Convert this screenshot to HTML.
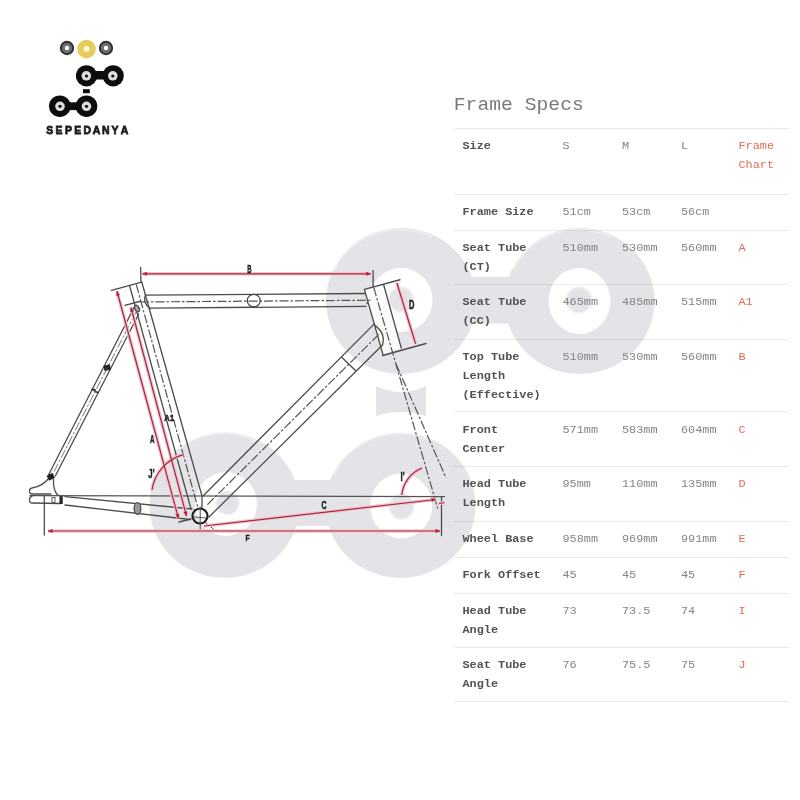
<!DOCTYPE html>
<html><head><meta charset="utf-8">
<style>
html,body{margin:0;padding:0;background:#fff;}
body{width:800px;height:800px;overflow:hidden;position:relative;font-family:"Liberation Mono",monospace;}
svg{position:absolute;left:0;top:0;}
.t{position:absolute;white-space:pre;font-size:11.85px;line-height:21.25px;transform:scaleY(0.88);transform-origin:0 0;color:#848484;}
.l{font-weight:bold;color:#525252;}
.r{color:#e36b55;}
.title{position:absolute;left:453.8px;top:95px;font-size:19.7px;line-height:20px;transform:scaleY(0.915);transform-origin:0 15px;color:#7a7a7a;white-space:pre;}
.hl{position:absolute;left:454px;width:335px;height:1px;background:#eaeaea;}
</style></head><body>
<!--HL-->
<div class="hl" style="top:128px"></div>
<div class="hl" style="top:194px"></div>
<div class="hl" style="top:230px"></div>
<div class="hl" style="top:284px"></div>
<div class="hl" style="top:339px"></div>
<div class="hl" style="top:411px"></div>
<div class="hl" style="top:466px"></div>
<div class="hl" style="top:521px"></div>
<div class="hl" style="top:557px"></div>
<div class="hl" style="top:593px"></div>
<div class="hl" style="top:647px"></div>
<div class="hl" style="top:701px"></div>
<!--/HL-->
<svg id="wm" width="800" height="800" viewBox="0 0 800 800" style="mix-blend-mode:multiply">
 <defs><filter id="bl" x="-5%" y="-5%" width="110%" height="110%"><feGaussianBlur stdDeviation="0.7"/></filter>
  <radialGradient id="dotg"><stop offset="0" stop-color="#e1e1e5"/><stop offset="0.78" stop-color="#e5e5e9"/><stop offset="1" stop-color="#fff"/></radialGradient></defs>
 <g filter="url(#bl)">
  <g fill="#e4e4e8">
    <ellipse cx="401" cy="301" rx="75" ry="73"/>
    <ellipse cx="579.5" cy="301" rx="75" ry="73"/>
    <rect x="401" y="277" width="178.5" height="46.5"/>
    <path d="M376,386 Q401,398 426,386 L426,416 Q401,408 376,416 Z"/>
    <ellipse cx="224.5" cy="505.2" rx="75" ry="72.6"/>
    <ellipse cx="400.5" cy="505.3" rx="75" ry="72.6"/>
    <rect x="224.5" y="480" width="176" height="46"/>
  </g>
  <g fill="#fff">
    <ellipse cx="401" cy="300" rx="31.5" ry="32"/>
    <ellipse cx="579.5" cy="301" rx="31" ry="33"/>
    <ellipse cx="226" cy="504" rx="31" ry="32"/>
    <ellipse cx="401.2" cy="506" rx="31" ry="32.5"/>
  </g>
  <g fill="url(#dotg)">
    <circle cx="401" cy="299.5" r="14"/>
    <circle cx="579" cy="300" r="14.5"/>
    <circle cx="227.5" cy="503" r="13"/>
    <circle cx="401.5" cy="506.5" r="14"/>
  </g>
  <g fill="none" stroke="#fff" stroke-opacity="0.35" stroke-width="2">
    <path d="M334,270 A73,71 0 0 1 432,237"/>
    <path d="M513,270 A73,71 0 0 1 611,237"/>
    <path d="M158,474 A73,71 0 0 1 256,441"/>
    <path d="M334,474 A73,71 0 0 1 432,441"/>
  </g>
 </g>
</svg>

<!--LOGO-->
<svg id="logo" width="800" height="800" viewBox="0 0 800 800">
 <defs>
  <radialGradient id="lg" cx="50%" cy="55%" r="55%">
   <stop offset="0.7" stop-color="#111"/><stop offset="1" stop-color="#444"/>
  </radialGradient>
 </defs>
 <!-- bearings -->
 <circle cx="67" cy="48" r="6.2" fill="#6e6e6e" stroke="#2e2e2e" stroke-width="1.9"/>
 <circle cx="67" cy="48" r="2.2" fill="#fff"/>
 <circle cx="106" cy="48" r="6.2" fill="#6e6e6e" stroke="#2e2e2e" stroke-width="1.9"/>
 <circle cx="106" cy="48" r="2.2" fill="#fff"/>
 <circle cx="86.5" cy="49" r="9.3" fill="#e6cc5c"/>
 <circle cx="86.5" cy="49" r="3" fill="#fff6d8"/>
 <!-- top pair -->
 <g fill="#0d0d0d">
  <circle cx="86.5" cy="75.8" r="10.6"/>
  <circle cx="113.2" cy="75.8" r="10.6"/>
  <rect x="86.5" y="71" width="26.7" height="8.5"/>
  <rect x="83" y="89.2" width="6.8" height="4"/>
  <circle cx="59.8" cy="106.2" r="10.8"/>
  <circle cx="86.5" cy="106.2" r="10.8"/>
  <rect x="59.8" y="102.3" width="26.7" height="7.8"/>
 </g>
 <g fill="#ddd">
  <circle cx="86.3" cy="75.8" r="4.8"/><circle cx="112.8" cy="75.8" r="4.8"/>
  <circle cx="60" cy="106.3" r="4.8"/><circle cx="86.5" cy="106.3" r="4.8"/>
 </g>
 <g fill="#111">
  <circle cx="86.5" cy="76" r="1.6"/><circle cx="112.8" cy="76" r="1.6"/>
  <circle cx="60" cy="106.3" r="1.6"/><circle cx="86.5" cy="106.3" r="1.6"/>
 </g>
 <g font-family="Liberation Sans" font-weight="bold" font-size="11.6" fill="#1c1c1c" stroke="#1c1c1c" stroke-width="0.8">
  <text transform="translate(46.3 134.4) scale(0.9 1)">S</text>
  <text transform="translate(55.6 134.4) scale(0.9 1)">E</text>
  <text transform="translate(64.9 134.4) scale(0.9 1)">P</text>
  <text transform="translate(74.2 134.4) scale(0.9 1)">E</text>
  <text transform="translate(83.5 134.4) scale(0.9 1)">D</text>
  <text transform="translate(92.8 134.4) scale(0.9 1)">A</text>
  <text transform="translate(102.1 134.4) scale(0.9 1)">N</text>
  <text transform="translate(111.4 134.4) scale(0.9 1)">Y</text>
  <text transform="translate(120.7 134.4) scale(0.9 1)">A</text>
 </g>
</svg>
<!--/LOGO-->
<!--DIAG-->
<svg id="dg" width="800" height="800" viewBox="0 0 800 800">
 <defs>
  <marker id="ah" viewBox="0 0 10 10" refX="9" refY="5" markerWidth="6" markerHeight="5" orient="auto-start-reverse" markerUnits="userSpaceOnUse">
   <path d="M0,1 L10,5 L0,9 Z" fill="#b8233b"/>
  </marker>
 </defs>
 <g fill="none" stroke="#4c4c4c" stroke-width="1.3" stroke-linecap="round">
  <!-- seat tube -->
  <line x1="129.75" y1="286.25" x2="191" y2="509"/>
  <line x1="141.75" y1="282" x2="202" y2="496"/>
  <line x1="202" y1="496" x2="202" y2="508"/>
  <!-- top tube -->
  <line x1="146" y1="295.2" x2="365" y2="293.5"/>
  <line x1="150" y1="308.2" x2="366" y2="306.3"/>
  <path d="M145.5,295 Q142,302 150,308.5"/>
  <path d="M365.6,294.4 Q374,298.5 366.9,303.5"/>
  <ellipse cx="253.75" cy="300.6" rx="6.5" ry="6.3"/>
  <!-- head tube -->
  <path d="M364.4,289.4 L383.75,285 L401.25,348 L383.1,355 Z" fill="#fbfbfb" stroke="none"/>
  <path d="M364.4,289.4 L383.1,355 M383.75,285 L401.25,348 M364.4,289.4 L400,279.75 M382.5,355.5 L426,343.5"/>
  <!-- down tube -->
  <line x1="373.75" y1="324.4" x2="203" y2="496"/>
  <line x1="382.5" y1="345" x2="209" y2="517"/>
  <path d="M373.75,324.4 Q386,333 382.5,345"/>
  <line x1="342" y1="357.5" x2="355.5" y2="370.5"/>
  <!-- seat stay -->
  <line x1="135" y1="305.75" x2="48.5" y2="475"/>
  <line x1="138.75" y1="314" x2="55.3" y2="476"/>
  <ellipse cx="137" cy="308.5" rx="2.1" ry="3.6" fill="#aaa" transform="rotate(-25 137 308.5)"/>
  <rect x="104" y="365" width="6.5" height="5.5" fill="#222" stroke="none" transform="rotate(-12 107 368)"/>
  <path d="M92,389.5 L95,390 M95,391.5 L98,392.5" stroke="#333" stroke-width="1.8"/>
  <!-- chain stay -->
  <line x1="65" y1="496.6" x2="192" y2="509"/>
  <line x1="65" y1="505" x2="190" y2="519.5"/>
  <ellipse cx="137.5" cy="508.5" rx="3.3" ry="5.8" fill="#999"/>
  <!-- dropout -->
  <path d="M48.5,478.5 Q43,486 32,488 Q29.5,488.5 29.5,491 Q29.5,494 32,494 L51,494"/>
  <path d="M53.5,479 Q53,489 57,494.5 L62,496.5"/>
  <path d="M32,496.3 Q29.5,496.5 29.5,499.5 Q29.5,503 32,503 L60,503.5"/>
  <rect x="47.5" y="474" width="6.5" height="5.5" fill="#222" stroke="none" transform="rotate(-27 50.7 476.7)"/>
  <rect x="59.5" y="496" width="3.2" height="8" fill="#222" stroke="none"/>
  <rect x="52" y="497.5" width="3" height="5" fill="none" stroke-width="0.9"/>
  <!-- axle line -->
  <line x1="30" y1="495.6" x2="444.5" y2="496.6" stroke="#555"/>
  <!-- rear vertical tick -->
  <line x1="44.3" y1="496" x2="44.3" y2="535"/>
  <!-- front vertical tick -->
  <line x1="441.5" y1="497" x2="441.5" y2="535.5"/>
  <!-- BB -->
  <circle cx="200" cy="516" r="7.5" stroke="#222" stroke-width="2.2"/>
  <line x1="179" y1="522" x2="191" y2="519"/>
  <line x1="205.5" y1="522.5" x2="214.5" y2="530" stroke-width="1"/>
  <line x1="200.2" y1="507" x2="200.2" y2="530" stroke-width="1"/>
  <line x1="194" y1="517" x2="206" y2="518" stroke-width="0.9"/>
  <!-- B ticks -->
  <line x1="140.6" y1="267.5" x2="141" y2="282"/>
  <line x1="373.1" y1="270.6" x2="373.1" y2="287"/>
  <!-- CT / CC marker lines -->
  <line x1="111.4" y1="290.4" x2="141.75" y2="282.1"/>
  <line x1="124.9" y1="305.4" x2="140.25" y2="301.25"/>
 </g>
 <g fill="none" stroke="#555" stroke-width="1.2" stroke-dasharray="9 2 2.5 2">
  <line x1="136.25" y1="284.5" x2="198" y2="508"/>
  <line x1="140" y1="302" x2="372" y2="300.2"/>
  <line x1="378.75" y1="334.4" x2="206" y2="506"/>
  <line x1="373.75" y1="287.5" x2="437.75" y2="508.5"/>
  <line x1="396" y1="364" x2="446" y2="477.75"/>
  <line x1="136" y1="312" x2="53.3" y2="473" stroke-width="0.8"/>
 </g>
 <g fill="none" stroke="#f2c6cf" stroke-width="3.6">
  <line x1="117" y1="291.25" x2="178.5" y2="518.5"/>
  <line x1="131" y1="307.5" x2="186.5" y2="516"/>
  <line x1="142.5" y1="273.8" x2="370.6" y2="273.8"/>
  <line x1="396.9" y1="283" x2="415.6" y2="343.75"/>
  <line x1="204" y1="526" x2="436" y2="499.5"/>
  <line x1="48" y1="531" x2="440" y2="531"/>
  <path d="M152,490 A43,43 0 0 1 183.4,454.6"/>
  <path d="M401.75,495 A33,33 0 0 1 422,468"/>
  <line x1="439" y1="503.5" x2="444.5" y2="502.5"/>
 </g>
 <g fill="none" stroke="#a3283f" stroke-width="1.2">
  <line x1="117" y1="291.25" x2="178.5" y2="518.5" marker-start="url(#ah)" marker-end="url(#ah)"/>
  <line x1="131" y1="307.5" x2="186.5" y2="516" marker-start="url(#ah)" marker-end="url(#ah)"/>
  <line x1="142.5" y1="273.8" x2="370.6" y2="273.8" marker-start="url(#ah)" marker-end="url(#ah)"/>
  <line x1="396.9" y1="283" x2="415.6" y2="343.75"/>
  <line x1="204" y1="526" x2="436" y2="499.5" marker-end="url(#ah)"/>
  <line x1="48" y1="531" x2="440" y2="531" marker-start="url(#ah)" marker-end="url(#ah)"/>
  <path d="M152,490 A43,43 0 0 1 183.4,454.6"/>
  <path d="M401.75,495 A33,33 0 0 1 422,468"/>
  <line x1="439" y1="503.5" x2="444.5" y2="502.5"/>
 </g>
 <g font-family="Liberation Sans" font-weight="bold" fill="#1e1e1e" stroke="#1e1e1e" stroke-width="0.45">
  <text transform="translate(247.2 272.5) scale(0.55 1)" font-size="10.9">B</text>
  <text transform="translate(409 308.9) scale(0.6 1)" font-size="12.5">D</text>
  <text transform="translate(321.6 509.4) scale(0.6 1)" font-size="11.8">C</text>
  <text transform="translate(245.6 541.1) scale(0.75 1)" font-size="9">F</text>
  <text transform="translate(149.9 443.3) scale(0.55 1)" font-size="11.5">A</text>
  <text transform="translate(164.2 420.8) scale(0.85 1)" font-size="9">A1</text>
  <text transform="translate(148.3 477.6) scale(0.6 1)" font-size="13">J'</text>
  <text transform="translate(400.6 480.8) scale(0.6 1)" font-size="13">I'</text>
 </g>
</svg>

<!--/DIAG-->
<div class="title">Frame Specs</div>

<!--TABLE-->
<div class="t l" style="left:462.5px;top:137.9px">Size</div>
<div class="t" style="left:562.5px;top:137.9px">S</div>
<div class="t" style="left:622px;top:137.9px">M</div>
<div class="t" style="left:681px;top:137.9px">L</div>
<div class="t r" style="left:738.5px;top:137.9px">Frame<br>Chart</div>
<div class="t l" style="left:462.5px;top:204.05px">Frame Size</div>
<div class="t" style="left:562.5px;top:204.05px">51cm</div>
<div class="t" style="left:622px;top:204.05px">53cm</div>
<div class="t" style="left:681px;top:204.05px">56cm</div>
<div class="t l" style="left:462.5px;top:240.05px">Seat Tube<br>(CT)</div>
<div class="t" style="left:562.5px;top:240.05px">510mm</div>
<div class="t" style="left:622px;top:240.05px">530mm</div>
<div class="t" style="left:681px;top:240.05px">560mm</div>
<div class="t r" style="left:738.5px;top:240.05px">A</div>
<div class="t l" style="left:462.5px;top:294.1px">Seat Tube<br>(CC)</div>
<div class="t" style="left:562.5px;top:294.1px">465mm</div>
<div class="t" style="left:622px;top:294.1px">485mm</div>
<div class="t" style="left:681px;top:294.1px">515mm</div>
<div class="t r" style="left:738.5px;top:294.1px">A1</div>
<div class="t l" style="left:462.5px;top:349.05px">Top Tube<br>Length<br>(Effective)</div>
<div class="t" style="left:562.5px;top:349.05px">510mm</div>
<div class="t" style="left:622px;top:349.05px">530mm</div>
<div class="t" style="left:681px;top:349.05px">560mm</div>
<div class="t r" style="left:738.5px;top:349.05px">B</div>
<div class="t l" style="left:462.5px;top:421.6px">Front<br>Center</div>
<div class="t" style="left:562.5px;top:421.6px">571mm</div>
<div class="t" style="left:622px;top:421.6px">583mm</div>
<div class="t" style="left:681px;top:421.6px">604mm</div>
<div class="t r" style="left:738.5px;top:421.6px">C</div>
<div class="t l" style="left:462.5px;top:476.3px">Head Tube<br>Length</div>
<div class="t" style="left:562.5px;top:476.3px">95mm</div>
<div class="t" style="left:622px;top:476.3px">110mm</div>
<div class="t" style="left:681px;top:476.3px">135mm</div>
<div class="t r" style="left:738.5px;top:476.3px">D</div>
<div class="t l" style="left:462.5px;top:531.1px">Wheel Base</div>
<div class="t" style="left:562.5px;top:531.1px">958mm</div>
<div class="t" style="left:622px;top:531.1px">969mm</div>
<div class="t" style="left:681px;top:531.1px">991mm</div>
<div class="t r" style="left:738.5px;top:531.1px">E</div>
<div class="t l" style="left:462.5px;top:567.1px">Fork Offset</div>
<div class="t" style="left:562.5px;top:567.1px">45</div>
<div class="t" style="left:622px;top:567.1px">45</div>
<div class="t" style="left:681px;top:567.1px">45</div>
<div class="t r" style="left:738.5px;top:567.1px">F</div>
<div class="t l" style="left:462.5px;top:603.1px">Head Tube<br>Angle</div>
<div class="t" style="left:562.5px;top:603.1px">73</div>
<div class="t" style="left:622px;top:603.1px">73.5</div>
<div class="t" style="left:681px;top:603.1px">74</div>
<div class="t r" style="left:738.5px;top:603.1px">I</div>
<div class="t l" style="left:462.5px;top:657.1px">Seat Tube<br>Angle</div>
<div class="t" style="left:562.5px;top:657.1px">76</div>
<div class="t" style="left:622px;top:657.1px">75.5</div>
<div class="t" style="left:681px;top:657.1px">75</div>
<div class="t r" style="left:738.5px;top:657.1px">J</div>

<!--/TABLE-->
</body></html>
